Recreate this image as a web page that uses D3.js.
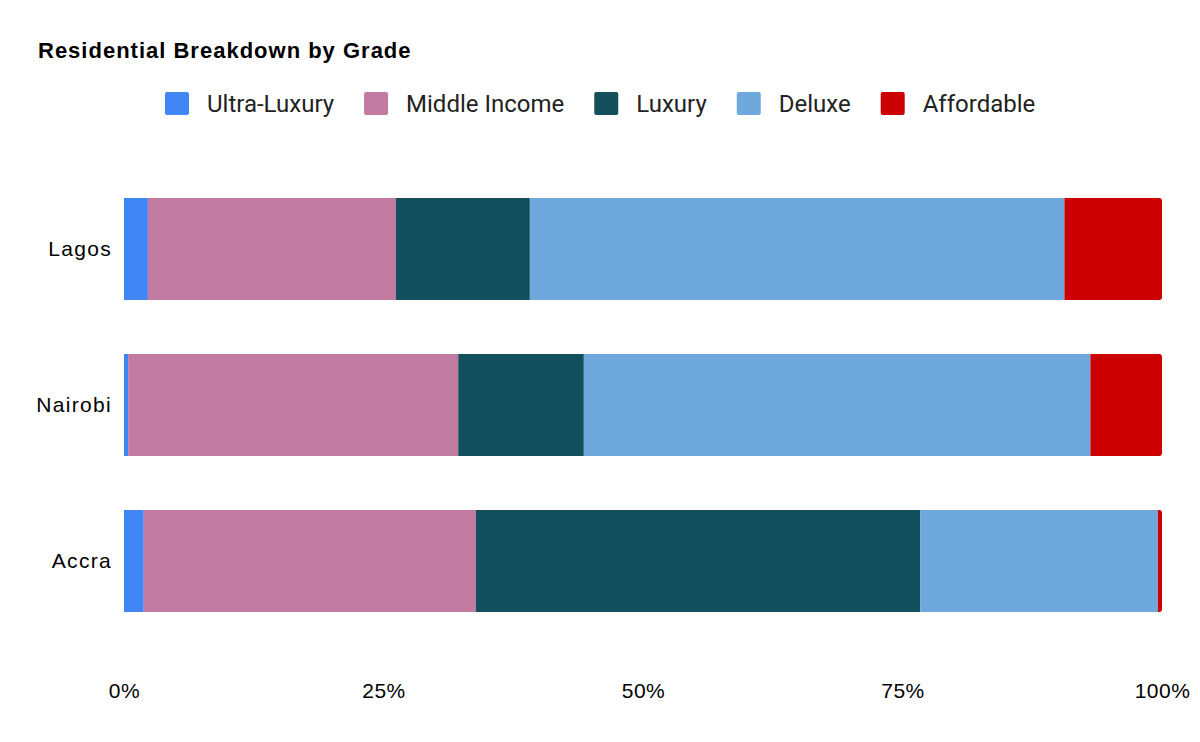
<!DOCTYPE html>
<html>
<head>
<meta charset="utf-8">
<script src="https://cdn.jsdelivr.net/npm/d3@7"></script>
<style>
  body { margin: 0; background: #fff; }
  svg { display: block; }
</style>
</head>
<body>
<svg width="1200" height="742"></svg>
<script>
// data (percent of each city's total)
var cities = ['Lagos', 'Nairobi', 'Accra'];
var grades = ['Ultra-Luxury', 'Middle Income', 'Luxury', 'Deluxe', 'Affordable'];
var colors = ['#4285f4', '#c27ba0', '#134f5c', '#6fa8dc', '#cc0000'];
var ultraLuxury  = [2.3, 0.4, 1.9];
var middleIncome = [23.9, 31.8, 32.0];
var luxury       = [12.9, 12.1, 42.8];
var deluxe       = [51.5, 48.8, 22.9];
var affordable   = [9.4, 6.9, 0.4];
var ticks = [0, 0.25, 0.5, 0.75, 1];

var series = [ultraLuxury, middleIncome, luxury, deluxe, affordable];
var rows = cities.map(function(c, i) {
  var o = { city: c };
  grades.forEach(function(g, k) { o[g] = series[k][i]; });
  return o;
});

var svg = d3.select('svg');
var W = 1200, H = 742;
var margin = { left: 124, right: 38, top: 159, bottom: 91 };
var axisFont = 'Liberation Sans, Arial, sans-serif';

var x = d3.scaleLinear().domain([0, 1]).range([margin.left, W - margin.right]);
var y = d3.scaleBand().domain(cities).range([margin.top, H - margin.bottom])
  .paddingInner(0.346).paddingOuter(0.25);

var layers = d3.stack().keys(grades).offset(d3.stackOffsetExpand)(rows);

// title
svg.append('text').attr('x', 38).attr('y', 58)
  .attr('font-family', axisFont).attr('font-size', 22).attr('font-weight', 'bold')
  .attr('letter-spacing', 1).attr('fill', '#000')
  .text('Residential Breakdown by Grade');

// legend, centred on the page
var lg = svg.append('g');
var lx = 0;
grades.forEach(function(g, k) {
  lg.append('rect').attr('x', lx).attr('y', 92).attr('width', 24).attr('height', 23)
    .attr('rx', 2).attr('fill', colors[k]);
  var t = lg.append('text').attr('x', lx + 42).attr('y', 112)
    .attr('font-family', 'Roboto, sans-serif').attr('font-size', 24).attr('fill', '#222')
    .text(g);
  lx = lx + 42 + t.node().getComputedTextLength();
  if (k < grades.length - 1) lx += 30;
});
lg.attr('transform', 'translate(' + Math.round(W / 2 - lx / 2) + ',0)');

// clip each bar so the right end is rounded
var defs = svg.append('defs');
cities.forEach(function(c, i) {
  defs.append('clipPath').attr('id', 'clip' + i)
    .append('rect')
    .attr('x', x(0) - 10).attr('y', y(c))
    .attr('width', x(1) - x(0) + 10).attr('height', y.bandwidth())
    .attr('rx', 3);
});

var bars = svg.append('g');
cities.forEach(function(c, i) {
  var row = bars.append('g').attr('clip-path', 'url(#clip' + i + ')');
  layers.forEach(function(layer, k) {
    var d = layer[i];
    row.append('rect')
      .attr('x', x(d[0])).attr('y', y(c))
      .attr('width', Math.max(0, x(d[1]) - x(d[0])))
      .attr('height', y.bandwidth())
      .attr('fill', colors[k]);
  });
});

// y axis labels
var yAxis = svg.append('g').attr('transform', 'translate(' + margin.left + ',0)')
  .call(d3.axisLeft(y).tickSize(0).tickPadding(12));
yAxis.select('.domain').remove();
yAxis.selectAll('text').attr('font-family', axisFont)
  .attr('font-size', 21).attr('letter-spacing', 1.3).attr('fill', '#000');

// x axis labels
var xAxis = svg.append('g').attr('transform', 'translate(0,683)')
  .call(d3.axisBottom(x).tickValues(ticks).tickFormat(d3.format('.0%')).tickSize(0).tickPadding(0));
xAxis.select('.domain').remove();
xAxis.selectAll('text').attr('font-family', axisFont)
  .attr('font-size', 21).attr('letter-spacing', 0.5).attr('fill', '#000');
</script>
</body>
</html>
